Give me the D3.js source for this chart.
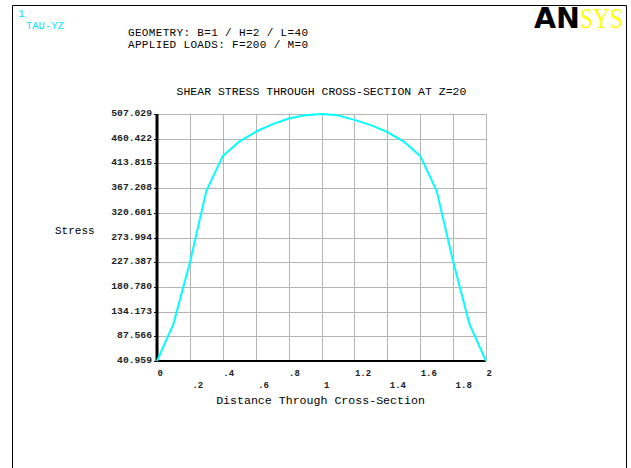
<!DOCTYPE html>
<html>
<head>
<meta charset="utf-8">
<script src="https://cdn.jsdelivr.net/npm/d3@7"></script>
<style>
  html, body { margin: 0; padding: 0; background: #fff; }
  svg { display: block; }
  text { font-family: "Liberation Mono", "Courier New", monospace; }
</style>
</head>
<body>
<svg id="chart" width="631" height="468"></svg>
<script>
// ---- data ----
const distance = [0, 0.1, 0.2, 0.3, 0.4, 0.5, 0.6, 0.7, 0.8, 0.9, 1.0,
                  1.1, 1.2, 1.3, 1.4, 1.5, 1.6, 1.7, 1.8, 1.9, 2.0];
const stress = [40.959, 111, 227, 362, 428, 455, 473.5, 487.5, 498.5, 504.5, 507.029,
                504.5, 496, 486, 473, 455, 428, 362, 229, 110, 40.959];
const yTickLabels = ["40.959", "87.566", "134.173", "180.780", "227.387", "273.994",
                     "320.601", "367.208", "413.815", "460.422", "507.029"];
const xTicksRow1 = [0, 0.4, 0.8, 1.2, 1.6, 2];
const xTicksRow2 = [0.2, 0.6, 1, 1.4, 1.8];
const xGrid = [0, 0.2, 0.4, 0.6, 0.8, 1, 1.2, 1.4, 1.6, 1.8, 2];
const titleText = "SHEAR STRESS THROUGH CROSS-SECTION AT Z=20";
const headerLines = ["GEOMETRY: B=1 / H=2 / L=40", "APPLIED LOADS: F=200 / M=0"];

const svg = d3.select("#chart");
const x = d3.scaleLinear().domain([0, 2]).range([157, 486]);
const y = d3.scaleLinear().domain([40.959, 507.029]).range([361, 114]);
const yTicks = yTickLabels.map(Number);

// frame
svg.append("path").attr("d", "M12.5,470 V5.5 H626.5 V470")
  .attr("fill", "none").attr("stroke", "#000").attr("stroke-width", 1);

// top-left labels
svg.append("text").attr("x", 18).attr("y", 17).attr("fill", "#00e5ff")
  .attr("font-size", 11).text("1");
svg.append("text").attr("x", 26).attr("y", 29).attr("fill", "#00e5ff")
  .attr("font-size", 10.5).text("TAU-YZ");
headerLines.forEach((t, i) => {
  svg.append("text").attr("x", 128).attr("y", 35.5 + i * 12.5).attr("fill", "#000")
    .attr("font-size", 11).attr("textLength", 180).attr("lengthAdjust", "spacing").text(t);
});

// logo
svg.append("text").attr("x", 534).attr("y", 28)
  .style("font-family", "'DejaVu Sans', sans-serif").attr("font-weight", "bold")
  .attr("font-size", 28).attr("textLength", 46).attr("lengthAdjust", "spacingAndGlyphs")
  .attr("fill", "#000").text("AN");
svg.append("text").attr("transform", "translate(580,28) scale(0.78,1)")
  .style("font-family", "'Liberation Serif', serif")
  .attr("font-size", 30).attr("fill", "#ffff00").text("SYS");

// title
svg.append("text").attr("x", 321.5).attr("y", 95).attr("text-anchor", "middle")
  .attr("font-size", 11.5).attr("fill", "#000").text(titleText);

// grid
const g = svg.append("g");
g.selectAll("line.hg").data(yTicks).enter().append("line")
  .attr("x1", x(0)).attr("x2", x(2))
  .attr("y1", d => Math.round(y(d)) + 0.5).attr("y2", d => Math.round(y(d)) + 0.5)
  .attr("stroke", "#b4b4b4").attr("stroke-width", 1);
g.selectAll("line.vg").data(xGrid).enter().append("line")
  .attr("x1", d => Math.round(x(d)) + 0.5).attr("x2", d => Math.round(x(d)) + 0.5)
  .attr("y1", y(507.029)).attr("y2", y(40.959))
  .attr("stroke", "#b4b4b4").attr("stroke-width", 1);

// y tick marks and labels
g.selectAll("line.yt").data(yTicks).enter().append("line")
  .attr("x1", x(0) - 3).attr("x2", x(0))
  .attr("y1", d => Math.round(y(d)) + 0.5).attr("y2", d => Math.round(y(d)) + 0.5)
  .attr("stroke", "#000");
g.selectAll("text.yl").data(yTickLabels).enter().append("text")
  .attr("x", 152).attr("y", d => y(+d) + 2).attr("text-anchor", "end")
  .attr("font-size", 9.7).attr("font-weight", "bold").attr("fill", "#222").text(d => d);

// x tick labels (two staggered rows)
const fmt = d => (d === 0 || d === 1 || d === 2) ? String(d) : (d < 1 ? String(d).replace(/^0/, "") : String(d));
g.selectAll("text.xl1").data(xTicksRow1).enter().append("text")
  .attr("x", d => x(d) + 0.5).attr("y", 376).attr("font-size", 9)
  .attr("font-weight", "bold").attr("fill", "#222").text(fmt);
g.selectAll("text.xl2").data(xTicksRow2).enter().append("text")
  .attr("x", d => x(d) + 2.5).attr("y", 388).attr("font-size", 9)
  .attr("font-weight", "bold").attr("fill", "#222").text(fmt);

// axes (thick)
svg.append("line").attr("x1", x(0)).attr("x2", x(0)).attr("y1", y(507.029))
  .attr("y2", y(40.959) + 1).attr("stroke", "#000").attr("stroke-width", 3);
svg.append("line").attr("x1", x(0) - 1).attr("x2", x(2)).attr("y1", y(40.959))
  .attr("y2", y(40.959)).attr("stroke", "#000").attr("stroke-width", 2);

// curve
const line = d3.line().x((d, i) => x(distance[i])).y(d => y(d));
svg.append("path").datum(stress).attr("d", line)
  .attr("fill", "none").attr("stroke", "#00ffff").attr("stroke-width", 2)
  .attr("stroke-linejoin", "round");

// axis titles
svg.append("text").attr("x", 55).attr("y", 234).attr("font-size", 11)
  .attr("fill", "#000").text("Stress");
svg.append("text").attr("x", 320.5).attr("y", 404).attr("text-anchor", "middle")
  .attr("font-size", 11.6).attr("fill", "#000").text("Distance Through Cross-Section");
</script>
</body>
</html>
